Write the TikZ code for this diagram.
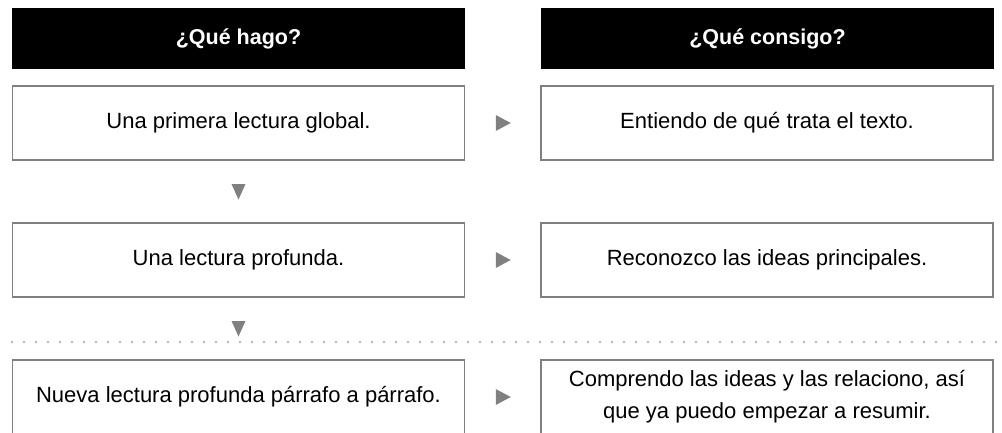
\documentclass[tikz,border=0pt]{standalone}
\usepackage{fontspec}
\setmainfont{Liberation Sans}
\usetikzlibrary{calc}
\definecolor{boxgray}{HTML}{808080}
\definecolor{arrgray}{HTML}{808080}
\definecolor{dotgray}{HTML}{B4B4B4}
\begin{document}
\begin{tikzpicture}[x=1pt,y=-1pt,
  header/.style={fill=black,text=white,font=\fontsize{21.5}{25}\selectfont\bfseries,
    minimum width=453pt,minimum height=61pt,inner sep=0pt},
  stepbox/.style={draw=boxgray,line width=1.6pt,fill=white,
    font=\fontsize{22}{32}\selectfont,align=center,
    minimum width=452pt,minimum height=74pt,inner sep=0pt},
  arr/.style={fill=arrgray},
  dotline/.style={dotgray,line width=2.6pt,line cap=round,dash pattern=on 0pt off 12pt}
]
\useasboundingbox (0,0) rectangle (1002,432);
\node[header] (h1) at (238.5,38.5) {¿Qué hago?};
\node[header] (h2) at (767.5,38.5) {¿Qué consigo?};
\node[stepbox] (l1) at (238.5,123) {Una primera lectura global.};
\node[stepbox] (r1) at (767,123) {Entiendo de qué trata el texto.};
\node[stepbox] (l2) at (238.5,260) {Una lectura profunda.};
\node[stepbox] (r2) at (767,260) {Reconozco las ideas principales.};
\node[stepbox] (l3) at (238.5,397) {Nueva lectura profunda párrafo a párrafo.};
\node[stepbox] (r3) at (767,397) {Comprendo las ideas y las relaciono, así\\que ya puedo empezar a resumir.};
% right-pointing markers
\foreach \a/\b in {l1/r1,l2/r2,l3/r3}{
  \fill[arr] ($(\a.east)!0.5!(\b.west)$) ++(-7,-8) -- ++(15,8) -- ++(-15,8) -- cycle;
}
% down-pointing markers
\foreach \a/\b in {l1/l2,l2/l3}{
  \fill[arr] ($(\a.south)!0.5!(\b.north)$) ++(-7,-7.5) -- ++(14,0) -- ++(-7,15.5) -- cycle;
}
\coordinate (ds) at (12,342);
\coordinate (de) at (1002,342);
\draw[dotline] (ds) -- (de);
\end{tikzpicture}
\end{document}
